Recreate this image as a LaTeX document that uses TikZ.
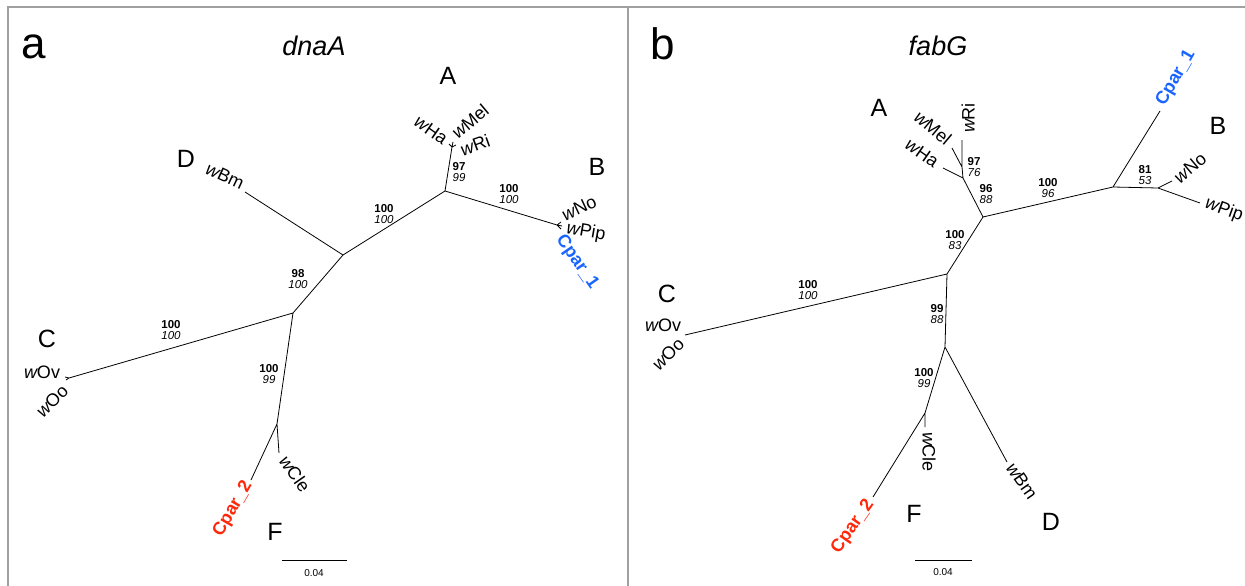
\documentclass[tikz,border=0pt]{standalone}
\usepackage{fontspec}
\setmainfont{Liberation Sans}
\definecolor{framegray}{RGB}{160,160,160}
\definecolor{cparblue}{RGB}{25,100,255}
\definecolor{cparred}{RGB}{255,40,10}
\begin{document}
\begin{tikzpicture}[x=1pt,y=-1pt,
  branch/.style={line width=0.8pt,black},
  frameline/.style={line width=1.6pt,framegray},
  panellabel/.style={font=\fontsize{44}{46}\selectfont,inner sep=0pt},
  genetitle/.style={font=\fontsize{27}{30}\selectfont\itshape,inner sep=0pt},
  cladelabel/.style={font=\fontsize{25}{27}\selectfont,inner sep=0pt},
  leaf/.style={font=\fontsize{18}{20}\selectfont,inner sep=0pt},
  cpar/.style={font=\fontsize{18}{20}\selectfont\bfseries,inner sep=0pt},
  boot/.style={font=\fontsize{11.5}{11}\selectfont,inner sep=0pt,align=center},
  scaletext/.style={font=\fontsize{10}{11}\selectfont,inner sep=0pt}]
\useasboundingbox (0,0) rectangle (1245,586);
% frame
\draw[frameline] (8,586) -- (8,7) -- (1245,7);
\draw[line width=2.4pt,framegray] (628,7) -- (628,586);

%================ panel a ================
\node[panellabel] (la) at (34,47) {a};
\node[genetitle] (ta) at (314,46) {dnaA};
\node[cladelabel] (cA) at (448,76) {A};
\node[cladelabel] (cB) at (597,167) {B};
\node[cladelabel] (cD) at (186,159) {D};
\node[cladelabel] (cC) at (47,339) {C};
\node[cladelabel] (cF) at (275,532) {F};

\coordinate (aN1) at (343,255);
\coordinate (aN2) at (445,191);
\coordinate (aA) at (452,147);
\coordinate (aHa) at (449,144);
\coordinate (aMel) at (453,142);
\coordinate (aRi) at (456,145);
\coordinate (aB) at (557,225);
\coordinate (aNo) at (561,222);
\coordinate (aPip) at (562,226);
\coordinate (aCp1) at (561,229);
\coordinate (aD) at (245,192);
\coordinate (aN3) at (293,313);
\coordinate (aC) at (69,378);
\coordinate (aOv) at (65,377);
\coordinate (aOo) at (66,380);
\coordinate (aN4) at (277,424);
\coordinate (aCp2) at (251,480);
\coordinate (aCle) at (279,453);

\draw[branch] (aN1) -- (aN2) (aN2) -- (aA) (aN2) -- (aB) (aN1) -- (aD)
  (aN1) -- (aN3) (aN3) -- (aC) (aN3) -- (aN4) (aN4) -- (aCp2) (aN4) -- (aCle)
  (aA) -- (aHa) (aA) -- (aMel) (aA) -- (aRi)
  (aB) -- (aNo) (aB) -- (aPip) (aB) -- (aCp1)
  (aC) -- (aOv) (aC) -- (aOo);

\node[leaf,rotate=-25] (aLBm) at (225,176) {{\itshape w}Bm};
\node[leaf,rotate=-35] (aLHa) at (431,130) {{\itshape w}Ha};
\node[leaf,rotate=40] (aLMel) at (470,121) {{\itshape w}Mel};
\node[leaf,rotate=20] (aLRi) at (475,145) {{\itshape w}Ri};
\node[leaf,rotate=25] (aLNo) at (579,208) {{\itshape w}No};
\node[leaf,rotate=-10] (aLPip) at (586,232) {{\itshape w}Pip};
\node[cpar,cparblue,rotate=-55] (aLCp1) at (577,262) {Cpar\_1};
\node[leaf] (aLOv) at (42,372) {{\itshape w}Ov};
\node[leaf,rotate=45] (aLOo) at (52,401) {{\itshape w}Oo};
\node[cpar,cparred,rotate=60] (aLCp2) at (233,509) {Cpar\_2};
\node[leaf,rotate=-55] (aLCle) at (295,474) {{\itshape w}Cle};

\node[boot] (ab1) at (459,172) {\textbf{97}\\\textit{99}};
\node[boot] (ab2) at (509,194) {\textbf{100}\\\textit{100}};
\node[boot] (ab3) at (384,214) {\textbf{100}\\\textit{100}};
\node[boot] (ab4) at (298,279) {\textbf{98}\\\textit{100}};
\node[boot] (ab5) at (171,330) {\textbf{100}\\\textit{100}};
\node[boot] (ab6) at (269,374) {\textbf{100}\\\textit{99}};

\coordinate (asL) at (282,560);
\coordinate (asR) at (347,560);
\draw[line width=0.8pt] (asL) -- (asR);
\node[scaletext] (as) at (314,573) {0.04};

%================ panel b ================
\node[panellabel] (lb) at (663,44) {b};
\node[genetitle] (tb) at (938,46) {fabG};
\node[cladelabel] (dA) at (879,108) {A};
\node[cladelabel] (dB) at (1218,126) {B};
\node[cladelabel] (dC) at (667,294) {C};
\node[cladelabel] (dF) at (914,514) {F};
\node[cladelabel] (dD) at (1051,522) {D};

\coordinate (bN1) at (947,274);
\coordinate (bN96) at (983,217);
\coordinate (bNQ) at (963,178);
\coordinate (bNP) at (962,167);
\coordinate (bRi) at (962,140);
\coordinate (bMel) at (952,148);
\coordinate (bHa) at (943,168);
\coordinate (bNB) at (1113,187);
\coordinate (bCp1) at (1160,111);
\coordinate (bNNP) at (1158,188);
\coordinate (bNo) at (1172,181);
\coordinate (bPip) at (1200,203);
\coordinate (bC) at (685,335);
\coordinate (bN99) at (945,347);
\coordinate (bNF) at (925,413);
\coordinate (bCle) at (925,427);
\coordinate (bCp2) at (873,497);
\coordinate (bBm) at (1007,462);

\draw[branch] (bN1) -- (bN96) (bN96) -- (bNQ) (bNQ) -- (bNP) (bNP) -- (bRi)
  (bNP) -- (bMel) (bNQ) -- (bHa) (bN96) -- (bNB) (bNB) -- (bCp1)
  (bNB) -- (bNNP) (bNNP) -- (bNo) (bNNP) -- (bPip)
  (bN1) -- (bC) (bN1) -- (bN99) (bN99) -- (bNF) (bNF) -- (bCle)
  (bNF) -- (bCp2) (bN99) -- (bBm);

\node[leaf,rotate=-40] (bLMel) at (933,128) {{\itshape w}Mel};
\node[leaf,rotate=-35] (bLHa) at (922,153) {{\itshape w}Ha};
\node[leaf,rotate=90] (bLRi) at (968,118) {{\itshape w}Ri};
\node[cpar,cparblue,rotate=60] (bLCp1) at (1176,78) {Cpar\_1};
\node[leaf,rotate=40] (bLNo) at (1190,168) {{\itshape w}No};
\node[leaf,rotate=-20] (bLPip) at (1224,210) {{\itshape w}Pip};
\node[leaf] (bLOv) at (663,325) {{\itshape w}Ov};
\node[leaf,rotate=45] (bLOo) at (668,354) {{\itshape w}Oo};
\node[leaf,rotate=-90] (bLCle) at (929,452) {{\itshape w}Cle};
\node[cpar,cparred,rotate=55] (bLCp2) at (853,527) {Cpar\_2};
\node[leaf,rotate=-55] (bLBm) at (1022,481) {{\itshape w}Bm};

\node[boot] (bb1) at (974,167) {\textbf{97}\\\textit{76}};
\node[boot] (bb2) at (986,194) {\textbf{96}\\\textit{88}};
\node[boot] (bb3) at (1048,188) {\textbf{100}\\\textit{96}};
\node[boot] (bb4) at (1145,175) {\textbf{81}\\\textit{53}};
\node[boot] (bb5) at (955,240) {\textbf{100}\\\textit{83}};
\node[boot] (bb6) at (808,290) {\textbf{100}\\\textit{100}};
\node[boot] (bb7) at (937,314) {\textbf{99}\\\textit{88}};
\node[boot] (bb8) at (924,378) {\textbf{100}\\\textit{99}};

\coordinate (bsL) at (915,560);
\coordinate (bsR) at (972,560);
\draw[line width=0.8pt] (bsL) -- (bsR);
\node[scaletext] (bs) at (943,572) {0.04};
\end{tikzpicture}
\end{document}
